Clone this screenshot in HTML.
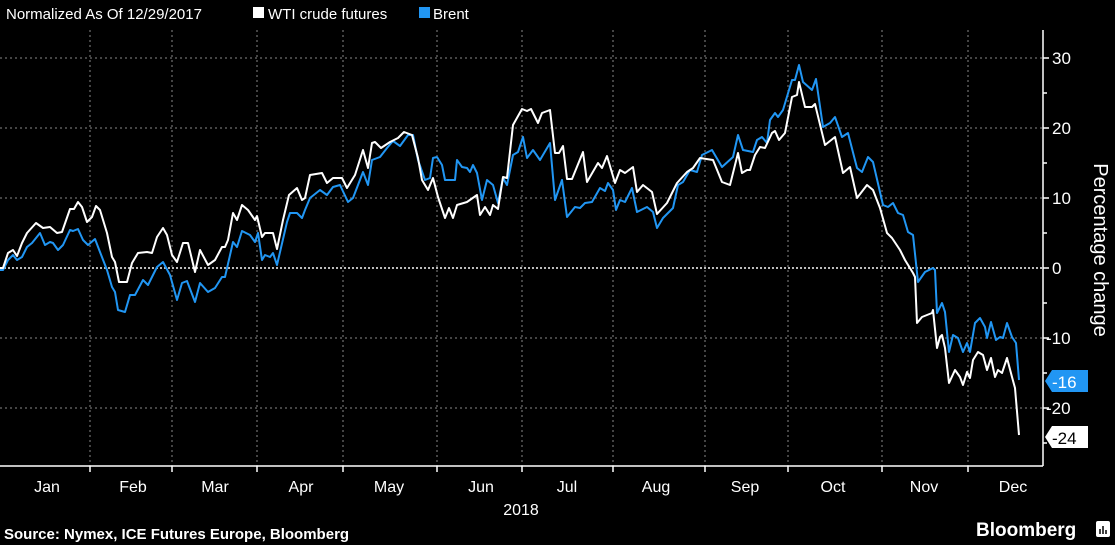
<!DOCTYPE html>
<html><head><meta charset="utf-8"><style>
html,body{margin:0;padding:0;background:#000;}
svg{display:block;font-family:"Liberation Sans",sans-serif;}
</style></head><body>
<svg width="1115" height="545" viewBox="0 0 1115 545" xmlns="http://www.w3.org/2000/svg">
<rect width="1115" height="545" fill="#000"/>
<text x="6" y="19" fill="#fff" font-size="15">Normalized As Of 12/29/2017</text>
<rect x="253" y="7" width="11" height="11" fill="#fff"/>
<text x="268" y="19" fill="#fff" font-size="15">WTI crude futures</text>
<rect x="419" y="7" width="11" height="11" fill="#2196f3"/>
<text x="433" y="19" fill="#fff" font-size="15">Brent</text>
<g stroke="#888" stroke-width="1" stroke-dasharray="2,3">
<line x1="0" y1="58" x2="1043" y2="58"/><line x1="0" y1="128" x2="1043" y2="128"/><line x1="0" y1="198" x2="1043" y2="198"/>
<line x1="0" y1="338" x2="1043" y2="338"/><line x1="0" y1="408" x2="1043" y2="408"/>
<line x1="90" y1="30" x2="90" y2="466"/><line x1="172" y1="30" x2="172" y2="466"/><line x1="257" y1="30" x2="257" y2="466"/><line x1="343" y1="30" x2="343" y2="466"/><line x1="437" y1="30" x2="437" y2="466"/><line x1="522" y1="30" x2="522" y2="466"/><line x1="613" y1="30" x2="613" y2="466"/><line x1="705" y1="30" x2="705" y2="466"/><line x1="788" y1="30" x2="788" y2="466"/><line x1="882" y1="30" x2="882" y2="466"/><line x1="968" y1="30" x2="968" y2="466"/>
</g>
<line x1="0" y1="268" x2="1043" y2="268" stroke="#bbb" stroke-width="2" stroke-dasharray="2,2"/>
<g stroke="#fff" stroke-width="1.5" fill="none">
<line x1="1043" y1="30" x2="1043" y2="466"/><line x1="0" y1="466" x2="1043" y2="466"/>
<line x1="1043" y1="58" x2="1049" y2="58"/><line x1="1043" y1="93" x2="1047" y2="93"/><line x1="1043" y1="128" x2="1049" y2="128"/><line x1="1043" y1="163" x2="1047" y2="163"/><line x1="1043" y1="198" x2="1049" y2="198"/><line x1="1043" y1="233" x2="1047" y2="233"/><line x1="1043" y1="268" x2="1049" y2="268"/><line x1="1043" y1="303" x2="1047" y2="303"/><line x1="1043" y1="338" x2="1049" y2="338"/><line x1="1043" y1="373" x2="1047" y2="373"/><line x1="1043" y1="408" x2="1049" y2="408"/><line x1="1043" y1="443" x2="1047" y2="443"/>
<line x1="90" y1="466" x2="90" y2="472"/><line x1="172" y1="466" x2="172" y2="472"/><line x1="257" y1="466" x2="257" y2="472"/><line x1="343" y1="466" x2="343" y2="472"/><line x1="437" y1="466" x2="437" y2="472"/><line x1="522" y1="466" x2="522" y2="472"/><line x1="613" y1="466" x2="613" y2="472"/><line x1="705" y1="466" x2="705" y2="472"/><line x1="788" y1="466" x2="788" y2="472"/><line x1="882" y1="466" x2="882" y2="472"/><line x1="968" y1="466" x2="968" y2="472"/>
</g>
<g fill="#fff" font-size="17">
<text x="1052" y="64">30</text><text x="1052" y="134">20</text><text x="1052" y="204">10</text><text x="1052" y="274">0</text>
<text x="1046" y="344">-10</text><text x="1046" y="414">-20</text>
</g>
<text transform="translate(1094,250) rotate(90)" fill="#fff" font-size="20" text-anchor="middle">Percentage change</text>
<g fill="#fff" font-size="16" text-anchor="middle">
<text x="47" y="492">Jan</text><text x="133" y="492">Feb</text><text x="215" y="492">Mar</text><text x="301" y="492">Apr</text><text x="389" y="492">May</text><text x="481" y="492">Jun</text><text x="567" y="492">Jul</text><text x="656" y="492">Aug</text><text x="745" y="492">Sep</text><text x="833" y="492">Oct</text><text x="924" y="492">Nov</text><text x="1013" y="492">Dec</text>
<text x="521" y="515">2018</text>
</g>
<text x="4" y="539" fill="#fff" font-size="15" font-weight="bold">Source: Nymex, ICE Futures Europe, Bloomberg</text>
<text x="976" y="536" fill="#fff" font-size="19" font-weight="bold">Bloomberg</text>
<rect x="1096" y="521" width="14" height="16" rx="2" fill="#fff"/>
<g stroke="#000" stroke-width="1.5"><line x1="1100" y1="534" x2="1100" y2="529"/><line x1="1103" y1="534" x2="1103" y2="526"/><line x1="1106" y1="534" x2="1106" y2="530"/></g>
<polyline fill="none" stroke="#2196f3" stroke-width="2" stroke-linejoin="round" points="0,270 3,270 8,260 13,255 17,260 22,257 27,247 32,243 40,233 45,245 50,242 53,243 58,250 63,245 70,230 73,231 78,229 83,240 88,245 95,239 100,252 107,270 112,287 115,292 118,310 125,312 130,295 135,295 143,280 148,285 157,267 163,262 170,275 177,300 182,283 187,281 195,302 200,283 208,292 215,288 222,277 225,277 233,242 237,247 242,231 250,235 255,242 258,233 262,260 265,255 270,257 273,253 277,265 287,222 290,213 297,213 302,218 305,210 310,198 320,190 327,195 333,187 340,185 348,202 353,198 363,172 368,185 372,160 380,157 387,148 393,141 400,146 408,135 413,135 418,160 425,180 430,178 433,158 437,157 442,165 445,180 455,180 457,160 462,167 467,168 470,172 473,165 477,173 482,200 487,180 493,185 498,203 503,178 507,185 513,155 518,152 523,137 527,158 533,150 540,160 550,143 555,200 562,180 567,217 575,207 580,208 585,203 592,202 600,188 605,191 608,183 613,190 616,210 620,200 625,202 632,188 637,212 647,207 653,212 657,228 663,218 673,208 678,185 683,182 690,170 697,172 702,155 712,150 722,167 733,157 738,135 743,150 753,152 757,140 762,137 767,143 770,120 775,113 778,117 783,110 792,80 795,80 799,65 803,82 812,90 816,79 823,127 830,123 835,117 842,137 848,133 857,168 862,172 868,157 873,162 883,205 888,207 893,203 898,213 903,215 908,232 913,235 918,282 925,272 933,268 935,270 937,313 942,303 945,312 949,352 953,335 958,338 963,352 967,343 970,352 975,323 980,318 985,327 987,338 991,322 996,340 1000,337 1003,338 1007,323 1012,337 1016,343 1019,380"/>
<polyline fill="none" stroke="#fff" stroke-width="2" stroke-linejoin="round" points="0,268 3,268 8,253 13,250 17,256 22,243 27,233 36,223 43,228 50,227 57,233 62,232 70,209 74,209 78,202 82,207 87,222 92,217 96,206 100,210 107,233 112,257 115,262 119,282 127,282 132,263 138,253 147,252 152,253 157,237 163,228 167,235 172,255 177,262 183,243 188,243 195,272 200,250 208,265 215,260 222,247 225,247 228,240 233,213 237,220 242,205 248,210 255,220 257,216 262,237 265,233 273,233 277,249 283,220 289,195 297,188 302,200 305,198 310,175 322,173 327,183 333,178 342,178 347,188 355,175 363,150 368,168 372,143 375,142 381,148 390,142 398,138 404,132 412,135 418,158 422,180 428,190 433,178 438,197 445,218 449,208 453,218 457,205 467,202 477,195 480,215 485,207 490,215 493,205 498,209 503,177 507,178 513,125 522,109 527,111 531,109 538,123 542,113 550,110 555,153 559,153 563,146 567,179 572,179 583,152 587,182 598,163 602,168 607,156 615,183 620,170 625,173 633,167 637,192 643,185 652,192 657,214 667,203 677,183 687,172 693,168 700,158 713,160 722,182 730,185 738,153 742,173 747,170 750,170 755,155 760,147 765,148 772,133 775,131 779,140 785,133 792,97 797,95 799,82 805,107 812,107 815,104 825,145 835,137 843,173 850,167 857,198 867,185 873,190 880,208 887,233 892,238 900,250 905,260 913,273 915,277 917,323 922,317 927,315 932,313 933,310 937,348 940,337 942,335 945,348 949,383 955,370 960,377 963,385 967,372 970,378 973,360 978,352 983,355 987,370 991,358 995,377 998,370 1002,373 1007,358 1012,377 1015,388 1019,435"/>
<polygon points="1045,381 1052,370 1088,370 1088,392 1052,392" fill="#2196f3"/>
<text x="1052" y="388" fill="#fff" font-size="17">-16</text>
<polygon points="1045,437 1052,426 1088,426 1088,448 1052,448" fill="#fff"/>
<text x="1052" y="444" fill="#000" font-size="17">-24</text>
</svg>
</body></html>
